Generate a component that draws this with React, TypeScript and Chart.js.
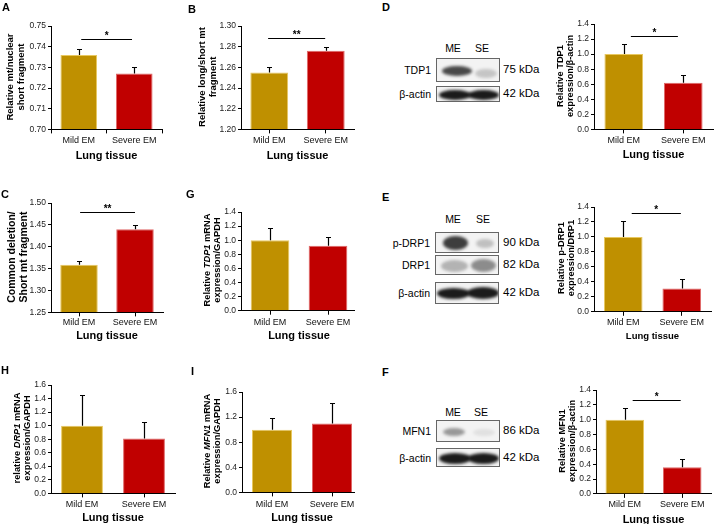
import React, { useEffect, useRef } from 'react';
import { Chart, registerables } from 'chart.js';
Chart.register(...registerables);

const FONT = "'Liberation Sans', Arial, Helvetica, sans-serif";

const categories = ['Mild EM', 'Severe EM'];
const xAxisTitle = 'Lung tissue';
const barColors = ['#BF9000', '#C00000'];
const barEdgeColors = ['#E8C860', '#E06868'];

const valuesA = [0.736, 0.727];
const errorsA = [0.003, 0.003];
const rangeA = [0.7, 0.75, 0.01];

const valuesB = [1.255, 1.276];
const errorsB = [0.005, 0.004];
const rangeB = [1.2, 1.3, 0.02];

const valuesC = [1.359, 1.44];
const errorsC = [0.009, 0.009];
const rangeC = [1.25, 1.5, 0.05];

const valuesD = [1.0, 0.62];
const errorsD = [0.13, 0.1];
const rangeD = [0, 1.4, 0.2];

const valuesE = [1.0, 0.31];
const errorsE = [0.21, 0.13];
const rangeE = [0, 1.4, 0.2];

const valuesF = [1.0, 0.36];
const errorsF = [0.16, 0.11];
const rangeF = [0, 1.4, 0.2];

const valuesG = [1.0, 0.92];
const errorsG = [0.17, 0.12];
const rangeG = [0, 1.4, 0.2];

const valuesH = [1.0, 0.81];
const errorsH = [0.45, 0.24];
const rangeH = [0, 1.6, 0.2];

const valuesI = [1.0, 1.1];
const errorsI = [0.19, 0.32];
const rangeI = [0, 1.6, 0.2];

type Sig = { y: number; x0: number; x1: number; stars: string };
type Spec = {
  values: number[];
  errors: number[];
  range: number[];
  decimals: number;
  axisX: number;
  right: number;
  top: number;
  bottom: number;
  ratio: number;
  gridOffset: boolean;
  sig?: Sig;
  labelOff: number;
  titleOff: number;
  titleSize: number;
  clip?: number;
};

const specs: Spec[] = [
  { values: valuesA, errors: errorsA, range: rangeA, decimals: 2, axisX: 51, right: 162, top: 26, bottom: 128, ratio: 0.66, gridOffset: true, sig: { y: 0.7439, x0: 0.045, x1: 0.96, stars: '*' }, labelOff: 11, titleOff: 27, titleSize: 11 },
  { values: valuesB, errors: errorsB, range: rangeB, decimals: 2, axisX: 241, right: 354, top: 26, bottom: 128, ratio: 0.67, gridOffset: false, sig: { y: 1.2886, x0: -0.02, x1: 0.99, stars: '**' }, labelOff: 11, titleOff: 27, titleSize: 11 },
  { values: valuesC, errors: errorsC, range: rangeC, decimals: 2, axisX: 51, right: 163, top: 203, bottom: 311, ratio: 0.67, gridOffset: false, sig: { y: 1.479, x0: 0.02, x1: 1.0, stars: '**' }, labelOff: 10, titleOff: 24, titleSize: 11 },
  { values: valuesD, errors: errorsD, range: rangeD, decimals: 1, axisX: 594, right: 713, top: 24, bottom: 128, ratio: 0.65, gridOffset: false, sig: { y: 1.24, x0: 0.12, x1: 0.91, stars: '*' }, labelOff: 11, titleOff: 26, titleSize: 11 },
  { values: valuesE, errors: errorsE, range: rangeE, decimals: 1, axisX: 594, right: 711, top: 207, bottom: 310, ratio: 0.66, gridOffset: false, sig: { y: 1.316, x0: 0.145, x1: 0.985, stars: '*' }, labelOff: 11, titleOff: 24.5, titleSize: 9.5 },
  { values: valuesF, errors: errorsF, range: rangeF, decimals: 1, axisX: 596, right: 711, top: 390, bottom: 492, ratio: 0.67, gridOffset: false, sig: { y: 1.264, x0: 0.138, x1: 0.973, stars: '*' }, labelOff: 10.5, titleOff: 26.5, titleSize: 11 },
  { values: valuesG, errors: errorsG, range: rangeG, decimals: 1, axisX: 241, right: 357, top: 212, bottom: 309, ratio: 0.667, gridOffset: false, labelOff: 11.5, titleOff: 25.7, titleSize: 11, clip: 355 },
  { values: valuesH, errors: errorsH, range: rangeH, decimals: 1, axisX: 51, right: 175, top: 385, bottom: 492, ratio: 0.675, gridOffset: false, labelOff: 11.5, titleOff: 25, titleSize: 11 },
  { values: valuesI, errors: errorsI, range: rangeI, decimals: 1, axisX: 242, right: 362, top: 392, bottom: 491, ratio: 0.667, gridOffset: false, labelOff: 12, titleOff: 26, titleSize: 11, clip: 355 },
];

const yTitles: { cx: number; cy: number; size: number; lines: string[] }[] = [
  { cx: 16, cy: 77, size: 9.5, lines: ['Relative mt/nuclear', 'short fragment'] },
  { cx: 208, cy: 77, size: 9.5, lines: ['Relative long/short mt', 'fragment'] },
  { cx: 18, cy: 257, size: 10.5, lines: ['Common deletion/', 'Short mt fragment'] },
  { cx: 565, cy: 76, size: 9.3, lines: ['Relative TDP1', 'expression/β-actin'] },
  { cx: 566, cy: 258, size: 9.3, lines: ['Relative p-DRP1', 'expression/DRP1'] },
  { cx: 567, cy: 441, size: 9.3, lines: ['Relative MFN1', 'expression/β-actin'] },
  { cx: 212, cy: 260, size: 9.3, lines: ['Relative _TDP1_ mRNA', 'expression/GAPDH'] },
  { cx: 22, cy: 438, size: 9.3, lines: ['relative _DRP1_ mRNA', 'expression/GAPDH'] },
  { cx: 212, cy: 441, size: 9.3, lines: ['Relative _MFN1_ mRNA', 'expression/GAPDH'] },
];

const panelLetters: { t: string; x: number; y: number }[] = [
  { t: 'A', x: 2, y: 2 }, { t: 'B', x: 188, y: 4 }, { t: 'C', x: 1, y: 189 },
  { t: 'D', x: 382, y: 2 }, { t: 'E', x: 382, y: 192 }, { t: 'F', x: 382, y: 367 },
  { t: 'G', x: 186, y: 189 }, { t: 'H', x: 1, y: 365 }, { t: 'I', x: 191, y: 366 },
];

function BarPanel({ s }: { s: Spec }) {
  const ref = useRef<HTMLCanvasElement>(null);
  const W = 32;
  const padT = 14;
  const padR = 3;
  const tickFont = 9;
  const left = Math.round(s.axisX) - W;
  const top = Math.round(s.top) - padT;
  const H = s.titleOff + (s.titleSize * 1.2) / 2;
  const width = Math.round(s.right) - left + padR;
  const height = Math.round(s.bottom) - top + Math.ceil(H) + 1;

  useEffect(() => {
    if (!ref.current) return;
    const [min, max, step] = s.range;
    const overlay = {
      id: 'overlay',
      afterDatasetsDraw(chart: any) {
        const ctx = chart.ctx;
        const meta = chart.getDatasetMeta(0);
        const ys = chart.scales.y;
        const xs = chart.scales.x;
        ctx.save();
        ctx.strokeStyle = '#000';
        ctx.lineWidth = 1.2;
        s.values.forEach((v, i) => {
          const bar = meta.data[i];
          const x = Math.round(bar.x) + 0.5;
          const y0 = ys.getPixelForValue(v);
          const y1 = Math.round(ys.getPixelForValue(v + s.errors[i])) + 0.5;
          ctx.beginPath();
          ctx.moveTo(x, y0);
          ctx.lineTo(x, y1);
          ctx.moveTo(x - 2.5, y1);
          ctx.lineTo(x + 2.5, y1);
          ctx.stroke();
        });
        if (s.sig) {
          const yl = Math.round(ys.getPixelForValue(s.sig.y)) + 0.5;
          const x0 = xs.getPixelForValue(s.sig.x0);
          const x1 = xs.getPixelForValue(s.sig.x1);
          ctx.lineWidth = 1;
          ctx.beginPath();
          ctx.moveTo(x0, yl);
          ctx.lineTo(x1, yl);
          ctx.stroke();
          ctx.fillStyle = '#000';
          ctx.font = `bold 10px ${FONT}`;
          ctx.textAlign = 'center';
          ctx.textBaseline = 'alphabetic';
          ctx.fillText(s.sig.stars, (x0 + x1) / 2, yl - 1);
        }
        ctx.restore();
      },
    };
    const chart = new Chart(ref.current, {
      type: 'bar',
      data: {
        labels: categories,
        datasets: [
          {
            data: s.values,
            backgroundColor: barColors,
            borderColor: barEdgeColors,
            borderWidth: 1,
            base: min,
            barPercentage: s.ratio,
            categoryPercentage: 1,
          } as any,
        ],
      },
      options: {
        animation: false,
        responsive: false,
        maintainAspectRatio: false,
        layout: { padding: { left: 0, right: padR, top: padT, bottom: 0 } },
        plugins: { legend: { display: false }, tooltip: { enabled: false } },
        scales: {
          x: {
            type: 'category',
            offset: true,
            grid: { offset: s.gridOffset, display: true, drawOnChartArea: false, drawTicks: true, tickLength: 4, color: '#000', lineWidth: 1 },
            border: { display: true, color: '#000', width: 1 },
            ticks: { color: '#111', font: { family: FONT, size: tickFont }, padding: s.labelOff - 4 - (tickFont * 1.2) / 2, maxRotation: 0, autoSkip: false },
            title: { display: true, text: xAxisTitle, color: '#000', font: { family: FONT, size: s.titleSize, weight: 'bold' }, padding: 0 },
            afterFit: (sc: any) => { sc.height = H; },
          },
          y: {
            min,
            max,
            ticks: { stepSize: step, color: '#222', font: { family: FONT, size: 8.5 }, padding: 2, callback: (v: any) => Number(v).toFixed(s.decimals) },
            grid: { drawOnChartArea: false, drawTicks: true, tickLength: 3, color: '#000', lineWidth: 1 },
            border: { display: true, color: '#000', width: 1 },
            afterFit: (sc: any) => { sc.width = W; },
          },
        },
      } as any,
      plugins: [overlay],
    });
    return () => chart.destroy();
  }, []);

  const canvas = (
    <canvas ref={ref} width={width} height={height} style={{ position: 'absolute', left, top, width, height }} />
  );
  if (s.clip) {
    return <div style={{ position: 'absolute', left: 0, top: 0, width: s.clip, height: 524, overflow: 'hidden' }}>{canvas}</div>;
  }
  return canvas;
}

function YTitle({ cx, cy, size, lines }: { cx: number; cy: number; size: number; lines: string[] }) {
  return (
    <div style={{ position: 'absolute', left: cx, top: cy, transform: 'translate(-50%,-50%) rotate(-90deg)', whiteSpace: 'nowrap', textAlign: 'center', fontFamily: FONT, fontWeight: 700, fontSize: size, lineHeight: 1.12, color: '#000' }}>
      {lines.map((ln, i) => (
        <div key={i}>
          {ln.split('_').map((seg, j) => (j % 2 === 1 ? <i key={j}>{seg}</i> : <span key={j}>{seg}</span>))}
        </div>
      ))}
    </div>
  );
}

type Band = { x: number; y: number; w: number; h: number; a: number };
function Blot({ x, y, w, h, bands }: { x: number; y: number; w: number; h: number; bands: Band[] }) {
  return (
    <div style={{ position: 'absolute', left: x, top: y, width: w, height: h, border: '1px solid #666', background: '#f3f3f3', overflow: 'hidden', boxSizing: 'border-box' }}>
      {bands.map((b, i) => (
        <div key={i} style={{ position: 'absolute', left: b.x, top: b.y, width: b.w, height: b.h, borderRadius: '50%', background: `rgba(15,15,15,${b.a})`, filter: 'blur(1.8px)' }} />
      ))}
    </div>
  );
}

function Txt({ x, y, t, align, size }: { x: number; y: number; t: string; align: 'left' | 'right' | 'center'; size?: number }) {
  const tx = align === 'left' ? '0' : align === 'right' ? '-100%' : '-50%';
  return (
    <div style={{ position: 'absolute', left: x, top: y, transform: `translate(${tx},-50%)`, whiteSpace: 'nowrap', fontFamily: FONT, fontSize: size ?? 10.5, lineHeight: 1, color: '#000' }}>{t}</div>
  );
}

const KD = 11.5;

export default function App() {
  return (
    <div style={{ position: 'fixed', left: 0, top: 0, width: 714, height: 524, overflow: 'hidden', background: '#fff' }}>
      {specs.map((s, i) => <BarPanel key={i} s={s} />)}
      {yTitles.map((t, i) => <YTitle key={i} {...t} />)}
      {panelLetters.map((p, i) => (
        <div key={i} style={{ position: 'absolute', left: p.x, top: p.y, fontFamily: FONT, fontWeight: 700, fontSize: 11, lineHeight: 1, color: '#000' }}>{p.t}</div>
      ))}

      {/* D blot */}
      <Txt x={453} y={48} t="ME" align="center" />
      <Txt x={482} y={48} t="SE" align="center" />
      <Blot x={436} y={58} w={64} h={24} bands={[{ x: 5, y: 7, w: 30, h: 10, a: 0.75 }, { x: 38, y: 10, w: 22, h: 9, a: 0.2 }]} />
      <Blot x={436} y={86} w={64} h={16} bands={[{ x: 2, y: 3, w: 32, h: 10, a: 0.95 }, { x: 31, y: 3, w: 31, h: 10, a: 0.95 }]} />
      <Txt x={431} y={70} t="TDP1" align="right" />
      <Txt x={431} y={94} t="β-actin" align="right" />
      <Txt x={503} y={70} t="75 kDa" align="left" size={KD} />
      <Txt x={503} y={94} t="42 kDa" align="left" size={KD} />

      {/* E blot */}
      <Txt x={453} y={219} t="ME" align="center" />
      <Txt x={483} y={219} t="SE" align="center" />
      <Blot x={435} y={232} w={64} h={21} bands={[{ x: 7, y: 3, w: 25, h: 14, a: 0.8 }, { x: 40, y: 6, w: 18, h: 9, a: 0.22 }]} />
      <Blot x={435} y={255} w={64} h={20} bands={[{ x: 5, y: 4, w: 27, h: 12, a: 0.28 }, { x: 35, y: 3, w: 25, h: 13, a: 0.45 }]} />
      <Blot x={435} y={282} w={64} h={22} bands={[{ x: 1, y: 5, w: 33, h: 11, a: 0.95 }, { x: 31, y: 4, w: 32, h: 12, a: 0.95 }]} />
      <Txt x={430} y={242.5} t="p-DRP1" align="right" />
      <Txt x={430} y={265} t="DRP1" align="right" />
      <Txt x={430} y={293} t="β-actin" align="right" />
      <Txt x={503} y={242.5} t="90 kDa" align="left" size={KD} />
      <Txt x={503} y={265} t="82 kDa" align="left" size={KD} />
      <Txt x={503} y={293} t="42 kDa" align="left" size={KD} />

      {/* F blot */}
      <Txt x={453} y={411.5} t="ME" align="center" />
      <Txt x={481} y={411.5} t="SE" align="center" />
      <Blot x={436} y={420} w={64} h={22} bands={[{ x: 6, y: 7, w: 22, h: 8, a: 0.4 }, { x: 36, y: 8, w: 22, h: 7, a: 0.08 }]} />
      <Blot x={436} y={448} w={64} h={19} bands={[{ x: 2, y: 4, w: 32, h: 11, a: 0.95 }, { x: 31, y: 4, w: 31, h: 11, a: 0.95 }]} />
      <Txt x={431} y={431} t="MFN1" align="right" />
      <Txt x={431} y={457.5} t="β-actin" align="right" />
      <Txt x={503} y={431} t="86 kDa" align="left" size={KD} />
      <Txt x={503} y={457.5} t="42 kDa" align="left" size={KD} />
    </div>
  );
}
